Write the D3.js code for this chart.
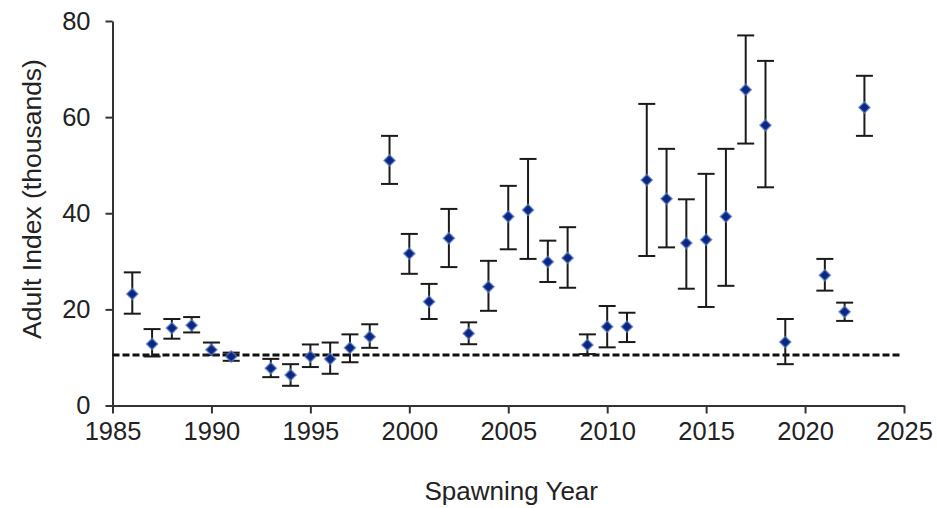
<!DOCTYPE html>
<meta charset="utf-8">
<style>
body { margin: 0; background: #fff; }
text { font-family: "Liberation Sans", Arial, sans-serif; fill: #222; }
.axis path, .axis line { stroke: #333; stroke-width: 2px; }
.axis text { font-size: 25.5px; fill: #222; }
.err line { stroke: #1a1a1a; stroke-width: 2px; }
</style>
<svg width="937" height="508"></svg>
<script src="https://d3js.org/d3.v7.min.js"></script>
<script>
var svg = d3.select("svg"),
    width = +svg.attr("width"),
    height = +svg.attr("height");

// spawning years and adult index (thousands) with error bar bounds
var years = [1986,1987,1988,1989,1990,1991,1993,1994,1995,1996,1997,1998,1999,2000,2001,2002,2003,2004,
             2005,2006,2007,2008,2009,2010,2011,2012,2013,2014,2015,2016,2017,2018,2019,2021,2022,2023];
var adultIndex = [23.2,12.8,16.1,16.7,11.6,10.2,7.75,6.35,10.2,9.7,12.0,14.3,51.0,31.6,21.6,34.8,15.0,24.7,
                  39.3,40.7,29.9,30.7,12.6,16.4,16.4,46.9,43.0,33.8,34.5,39.3,65.7,58.3,13.2,27.1,19.5,62.0];
var upperBound = [27.7,15.9,18.0,18.4,13.1,11.0,9.7,8.6,12.7,13.1,14.8,16.9,56.1,35.7,25.3,40.9,17.3,30.1,
                  45.7,51.3,34.3,37.1,14.8,20.7,19.3,62.75,53.4,42.9,48.2,53.4,77.0,71.7,18.0,30.5,21.4,68.6];
var lowerBound = [19.1,10.2,13.9,15.2,10.5,9.3,5.9,4.1,8.0,6.6,9.0,12.0,46.1,27.4,18.0,28.8,12.75,19.7,
                  32.5,30.5,25.7,24.5,10.7,12.1,13.2,31.1,32.9,24.3,20.5,24.9,54.5,45.4,8.6,23.9,17.6,56.1];

// dashed reference level
var refLevel = 10.5;
var refYears = [1985, 2024.8];

var xTicks = [1985,1990,1995,2000,2005,2010,2015,2020,2025];
var yTicks = [0,20,40,60,80];

var margin = {top: 21, right: 33, bottom: 102.5, left: 112.5};

var x = d3.scaleLinear().domain([1985, 2025]).range([margin.left, width - margin.right]);
var y = d3.scaleLinear().domain([0, 80]).range([height - margin.bottom, margin.top]);

var data = years.map(function(yr, i) {
  return {year: yr, v: adultIndex[i], hi: upperBound[i], lo: lowerBound[i]};
});

// axes
svg.append("g")
    .attr("class", "axis")
    .attr("transform", "translate(0," + y(0) + ")")
    .call(d3.axisBottom(x).tickValues(xTicks).tickFormat(d3.format("d"))
          .tickSize(8).tickSizeOuter(0).tickPadding(8));

svg.append("g")
    .attr("class", "axis")
    .attr("transform", "translate(" + x(1985) + ",0)")
    .call(d3.axisLeft(y).tickValues(yTicks).tickSize(7).tickSizeOuter(0).tickPadding(15));

// reference line
svg.append("line")
    .attr("x1", x(refYears[0])).attr("x2", x(refYears[1]))
    .attr("y1", y(refLevel)).attr("y2", y(refLevel))
    .attr("stroke", "#111")
    .attr("stroke-width", 3)
    .attr("stroke-dasharray", "7,3");

// error bars
var cap = 8.5;
var err = svg.append("g").attr("class", "err")
    .selectAll("g").data(data).enter().append("g");

err.append("line")
    .attr("x1", function(d) { return x(d.year); })
    .attr("x2", function(d) { return x(d.year); })
    .attr("y1", function(d) { return y(d.hi); })
    .attr("y2", function(d) { return y(d.lo); });
err.append("line")
    .attr("x1", function(d) { return x(d.year) - cap; })
    .attr("x2", function(d) { return x(d.year) + cap; })
    .attr("y1", function(d) { return y(d.hi); })
    .attr("y2", function(d) { return y(d.hi); });
err.append("line")
    .attr("x1", function(d) { return x(d.year) - cap; })
    .attr("x2", function(d) { return x(d.year) + cap; })
    .attr("y1", function(d) { return y(d.lo); })
    .attr("y2", function(d) { return y(d.lo); });

// diamond markers
svg.append("g")
    .selectAll("path")
    .data(data)
    .enter().append("path")
    .attr("d", d3.symbol().type(d3.symbolDiamond2).size(80))
    .attr("transform", function(d) { return "translate(" + x(d.year) + "," + y(d.v) + ")"; })
    .attr("fill", "#0b2784")
    .attr("stroke", "#5f7fc4")
    .attr("stroke-opacity", 0.7)
    .attr("stroke-width", 1.5);

// axis titles
svg.append("text")
    .attr("x", (x(1985) + x(2025)) / 2 + 3)
    .attr("y", 500)
    .attr("text-anchor", "middle")
    .style("font-size", "26px")
    .text("Spawning Year");

svg.append("text")
    .attr("transform", "translate(41," + 199 + ") rotate(-90)")
    .attr("text-anchor", "middle")
    .style("font-size", "26.5px")
    .text("Adult Index (thousands)");
</script>
